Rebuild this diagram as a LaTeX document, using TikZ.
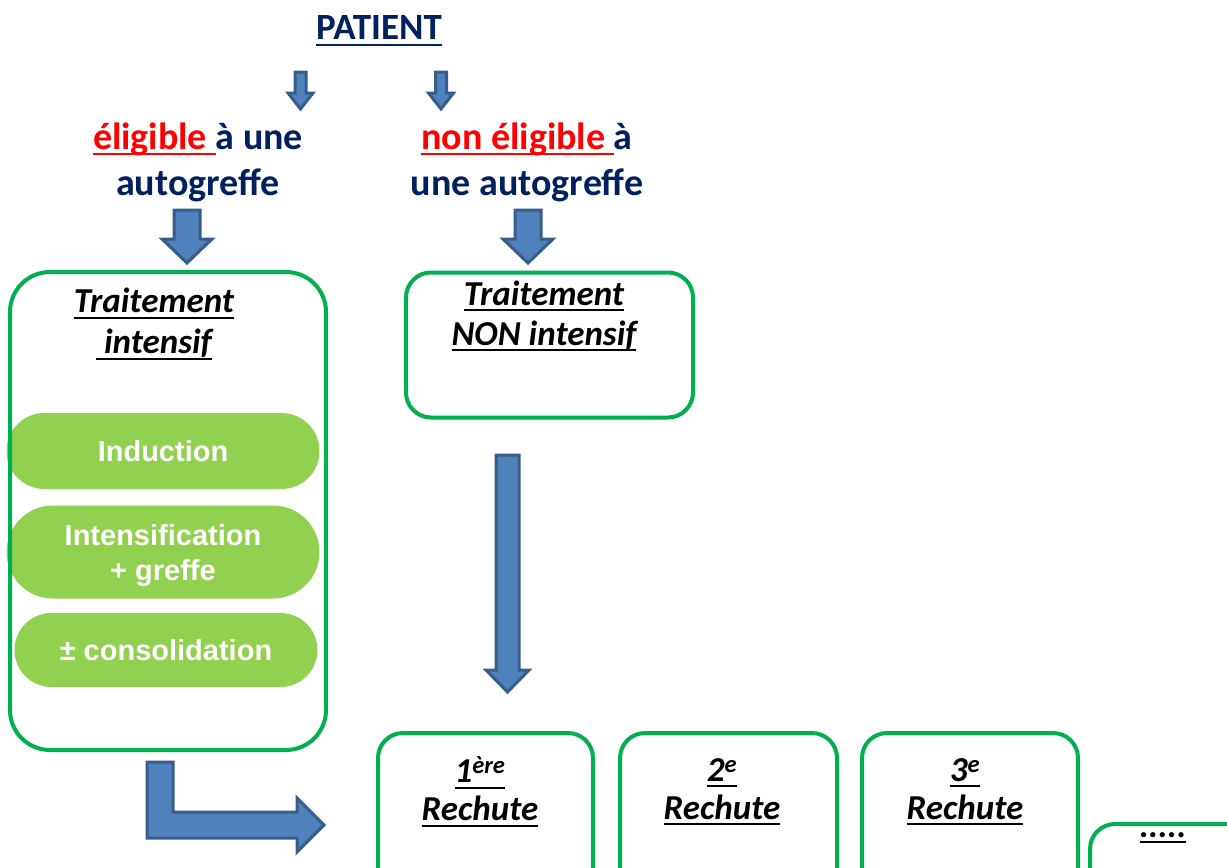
\documentclass[tikz,border=0pt]{standalone}
\usepackage{fontspec}
\setmainfont{Carlito}
\newfontfamily\pillfont{Liberation Sans}
\usetikzlibrary{shapes.misc}
\newcommand{\uln}[1]{\leavevmode\setbox0=\hbox{#1}\rlap{\vrule height -4pt depth 6pt width \wd0}\box0}
\definecolor{navy}{RGB}{0,32,96}
\definecolor{boxgreen}{RGB}{0,176,80}
\definecolor{pillgreen}{RGB}{146,208,80}
\definecolor{arrowblue}{RGB}{79,129,189}
\definecolor{arrowedge}{RGB}{56,93,138}
\tikzset{
  heading/.style={font=\bfseries\fontsize{38}{46}\selectfont, text=navy, align=center, inner sep=0pt},
  boxtitle/.style={font=\bfseries\itshape\fontsize{35}{41}\selectfont, align=center, inner sep=0pt},
  greenbox/.style={draw=boxgreen, line width=4pt, rounded corners=25pt, inner sep=0pt},
  pill/.style={rounded rectangle, fill=pillgreen, text=white, align=center, inner sep=0pt,
    font=\pillfont\bfseries\fontsize{29}{35}\selectfont, minimum width=313pt},
  blockarrow/.style={fill=arrowblue, draw=arrowedge, line width=3pt}
}
% x, top, tip, half shaft, half head, head length
\newcommand{\downblock}[6]{%
  \draw[blockarrow] (#1-#4,#2) -- (#1+#4,#2) -- (#1+#4,#3-#6) -- (#1+#5,#3-#6)
    -- (#1,#3) -- (#1-#5,#3-#6) -- (#1-#4,#3-#6) -- cycle;}
\begin{document}
\begin{tikzpicture}[x=1pt,y=-1pt]
  \useasboundingbox (0,0) rectangle (1227,868);
  \clip (0,0) rectangle (1227,868);
  \node[heading, font=\bfseries\fontsize{37}{40}\selectfont] (patient) at (379,31) {\uln{PATIENT}};
  \downblock{300.5}{72}{109}{5.5}{12.5}{16}
  \downblock{441}{72}{109}{5.5}{12.5}{16}
  \node[heading] (elig) at (198,162) {\textcolor{red}{\uln{éligible\ }}à une\\autogreffe};
  \node[heading] (nonelig) at (527,162) {\textcolor{red}{\uln{non éligible\ }}à\\une autogreffe};
  \downblock{187}{210}{263}{13}{25}{24}
  \downblock{528}{210}{263}{13}{25}{24}

  \node[pill, minimum height=76pt] (induction) at (163,451) {Induction};
  \node[pill, minimum height=93pt, text depth=-6pt] (intensification) at (163,552) {Intensification\\+ greffe};
  \node[pill, minimum height=74pt, minimum width=303pt] (consolidation) at (166,650) {± consolidation};
  \node[greenbox, rounded corners=40pt, minimum width=316pt, minimum height=478pt] (intbox) at (168,511) {};
  \node[boxtitle] (inttitle) at (154,324) {\uln{Traitement}\\\uln{\ intensif}};

  \node[greenbox, minimum width=287pt, minimum height=145pt] (nonintbox) at (549.5,345) {};
  \node[boxtitle, font=\bfseries\itshape\fontsize{35}{40}\selectfont] (noninttitle) at (544,316) {\uln{Traitement}\\\uln{NON intensif}};
  \downblock{507.5}{455}{692}{11.5}{21.5}{22}

  \draw[blockarrow] (147,762) -- (173,762) -- (173,812) -- (297,812) -- (297,798) -- (324,825)
    -- (297,852) -- (297,838) -- (147,838) -- cycle;

  \node[greenbox, anchor=north, minimum width=215pt, minimum height=200pt] (rechute1) at (485.5,731) {};
  \node[greenbox, anchor=north, minimum width=217pt, minimum height=200pt] (rechute2) at (728.5,731) {};
  \node[greenbox, anchor=north, minimum width=216pt, minimum height=200pt] (rechute3) at (970,731) {};
  \node[greenbox, anchor=north west, minimum width=200pt, minimum height=100pt] (rechute4) at (1088,822) {};
  \begin{scope}[every node/.style={boxtitle, font=\bfseries\itshape\fontsize{35}{38}\selectfont}]
    \node (label1) at (480,792) {\uln{1\textsuperscript{ère}}\\\uln{Rechute}};
    \node (label2) at (722,792) {\uln{2\textsuperscript{e}}\\\uln{Rechute}};
    \node (label3) at (965,792) {\uln{3\textsuperscript{e}}\\\uln{Rechute}};
    \node (label4) at (1163,838) {\uln{.....}};
  \end{scope}
\end{tikzpicture}
\end{document}
